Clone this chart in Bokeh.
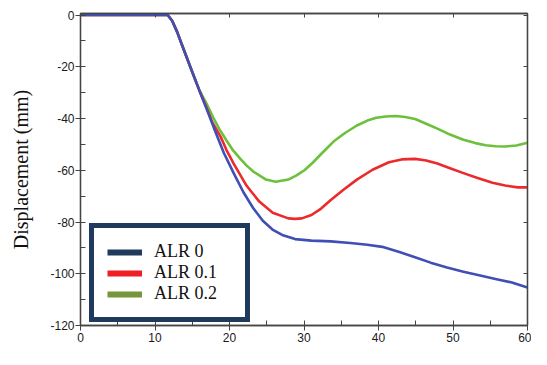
from bokeh.plotting import figure
from bokeh.models import (Range1d, LinearAxis, SingleIntervalTicker, ColumnDataSource,
                          Legend, LegendItem, CustomJSTickFormatter)
from bokeh.embed import file_html
from bokeh.resources import INLINE

# ---- data ----
x_alr0 = [0, 11.7, 12.3, 12.97, 13.6, 14.3, 15.0, 16.0, 17.3, 18.2, 19.26, 20.56, 21.87, 23.17,
          24.47, 25.77, 27.07, 28.8, 31.0, 33.6, 36.2, 38.5, 40.5, 42.7, 44.9, 47.0, 49.2, 51.4,
          53.5, 55.7, 57.9, 60.0]
y_alr0 = [0, 0, -2.2, -6.5, -11.4, -16.7, -22.0, -29.5, -39.0, -45.8, -53.4, -61.1, -68.5, -74.6,
          -79.5, -82.9, -85.0, -86.6, -87.2, -87.5, -88.1, -88.8, -89.6, -91.5, -93.6, -95.7,
          -97.6, -99.2, -100.6, -102.0, -103.4, -105.3]

x_alr01 = [0, 11.7, 12.3, 12.97, 13.6, 14.3, 15.0, 16.0, 16.9, 17.7, 18.8, 19.6, 20.56, 22.3, 24.0,
           25.8, 27.9, 28.8, 29.7, 31.0, 32.3, 33.6, 35.3, 37.1, 39.2, 41.4, 43.1, 44.9, 46.4,
           47.9, 49.6, 51.4, 53.3, 55.3, 57.0, 58.7, 60.0]
y_alr01 = [0, 0, -2.2, -6.5, -11.4, -16.7, -22.0, -29.5, -35.6, -41.5, -47.0, -52.2, -57.4, -66.0,
           -72.1, -76.4, -78.6, -78.8, -78.6, -77.3, -74.8, -71.5, -67.5, -63.6, -59.8, -56.9,
           -55.8, -55.6, -56.2, -57.4, -59.2, -61.1, -63.0, -64.8, -65.9, -66.6, -66.6]

x_alr02 = [0, 11.7, 12.3, 12.97, 13.6, 14.3, 15.0, 16.0, 16.9, 17.8, 18.6, 19.6, 20.4, 21.4, 22.3,
           23.2, 24.9, 26.2, 27.9, 29.0, 30.1, 31.2, 32.3, 34.0, 35.5, 37.1, 38.5, 39.7, 41.0,
           42.3, 43.6, 44.9, 46.4, 47.9, 49.6, 51.4, 53.0, 54.4, 55.7, 57.0, 58.5, 60.0]
y_alr02 = [0, 0, -2.2, -6.5, -11.4, -16.7, -22.0, -29.3, -34.1, -39.5, -43.9, -48.5, -52.0, -55.4,
           -58.2, -60.5, -63.6, -64.4, -63.6, -62.0, -59.9, -57.0, -53.7, -48.8, -45.6, -42.7,
           -40.8, -39.7, -39.2, -39.0, -39.4, -40.2, -42.0, -43.9, -46.2, -48.2, -49.5, -50.3,
           -50.7, -50.8, -50.4, -49.4]

labels = ["ALR 0", "ALR 0.1", "ALR 0.2"]
line_colors = ["#3f4fb3", "#ec2a2c", "#6cc03c"]
legend_colors = ["#1f3a5c", "#ee2024", "#76963a"]

y_label = "Displacement (mm)"

TICK_FONT = "Liberation Sans"
AX = "#444444"

p = figure(width=531, height=349, output_backend="svg", toolbar_location=None,
           x_range=Range1d(0, 60), y_range=Range1d(-120, 0.6),
           min_border_left=80, min_border_right=4, min_border_top=13, min_border_bottom=24)
p.grid.visible = False
p.background_fill_color = "white"
p.border_fill_color = "white"
p.outline_line_color = AX
p.outline_line_width = 1.3

hyphen = CustomJSTickFormatter(code="return tick.toFixed(0);")

def style_axis(ax, ticker):
    ax.ticker = ticker
    ax.formatter = hyphen
    ax.axis_line_color = AX
    ax.axis_line_width = 1.3
    ax.major_tick_line_color = AX
    ax.minor_tick_line_color = AX
    ax.major_tick_in = 2
    ax.major_tick_out = 5
    ax.minor_tick_in = 5
    ax.minor_tick_out = 0
    ax.major_label_text_font = TICK_FONT
    ax.major_label_text_font_size = "12px"
    ax.major_label_text_color = "#1a1a1a"
    ax.major_label_standoff = 2

style_axis(p.xaxis[0], SingleIntervalTicker(interval=10, num_minor_ticks=2))
style_axis(p.yaxis[0], SingleIntervalTicker(interval=20, num_minor_ticks=2))
p.yaxis[0].major_label_standoff = 1
p.yaxis[0].axis_label = y_label
p.yaxis[0].axis_label_text_font = "Liberation Serif"
p.yaxis[0].axis_label_text_font_style = "normal"
p.yaxis[0].axis_label_text_font_size = "20px"
p.yaxis[0].axis_label_text_color = "#111111"
p.yaxis[0].axis_label_standoff = 15

blank = CustomJSTickFormatter(code="return '';")
ax_r = LinearAxis(ticker=SingleIntervalTicker(interval=20, num_minor_ticks=0), formatter=blank)
ax_t = LinearAxis(ticker=SingleIntervalTicker(interval=10, num_minor_ticks=0), formatter=blank)
for ax in (ax_r, ax_t):
    ax.axis_line_color = AX
    ax.axis_line_width = 1.3
    ax.major_tick_line_color = AX
    ax.major_tick_in = 4
    ax.major_tick_out = 0
    ax.minor_tick_in = 0
    ax.minor_tick_out = 0
    ax.major_label_text_font_size = "1px"
    ax.major_label_standoff = 0
p.add_layout(ax_r, "right")
p.add_layout(ax_t, "above")

series = [(x_alr0, y_alr0), (x_alr01, y_alr01), (x_alr02, y_alr02)]
for (xs, ys), c in reversed(list(zip(series, line_colors))):
    p.line(x="x", y="y", source=ColumnDataSource(dict(x=xs, y=ys)),
           line_color=c, line_width=2.6, line_join="round")

nan = float("nan")
items = []
for lab, c in zip(labels, legend_colors):
    r = p.line(x=[nan], y=[nan], line_color=c, line_width=6)
    items.append(LegendItem(label=lab, renderers=[r]))

leg = Legend(items=items, location=(9, 3), orientation="vertical",
             border_line_color="#1f3a5c", border_line_width=5, border_line_alpha=1,
             background_fill_color="white", background_fill_alpha=1,
             padding=13, spacing=0, glyph_width=35, glyph_height=20, label_height=20,
             label_width=78, label_standoff=12, label_text_font="Liberation Serif",
             label_text_font_size="18px", label_text_color="#111111")
p.add_layout(leg, "center")

open("out.html", "w").write(file_html(p, INLINE))
